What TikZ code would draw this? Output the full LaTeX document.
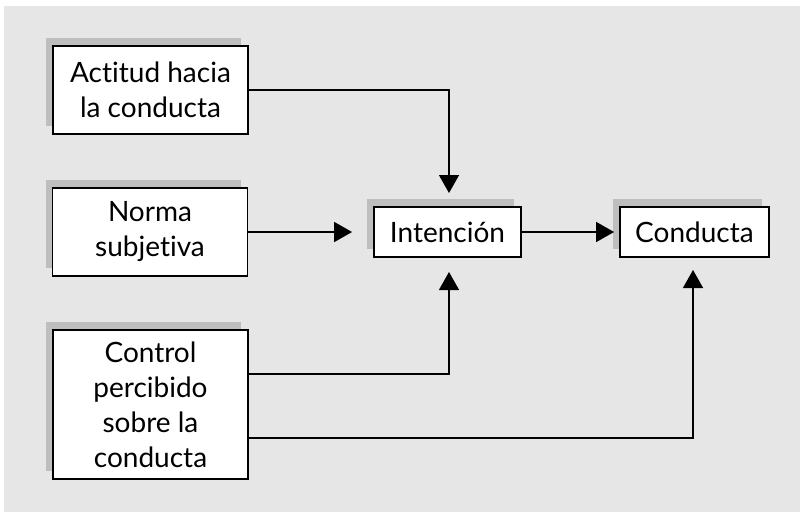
\documentclass[tikz,border=0pt]{standalone}
\usepackage{fontspec}
\setmainfont[Ligatures=NoCommon]{Lato}
\usetikzlibrary{arrows.meta}
\definecolor{bgc}{HTML}{E6E6E6}
\definecolor{shc}{HTML}{BEBEBE}
\tikzset{
  box/.style={draw=black, line width=1.8pt, fill=white, align=center, inner sep=0pt,
    font=\fontsize{28}{35}\selectfont},
  arr/.style={line width=1.4pt, -{Triangle[length=18pt,width=20pt]}}
}
\newcommand{\shbox}[6]{% name, cx, cy, w, h, text
  \fill[shc] (#2-#4/2-7,#3-#5/2-8) rectangle (#2+#4/2-7,#3+#5/2-8);
  \node[box, minimum width=#4pt, minimum height=#5pt] (#1) at (#2,#3) {#6};
}
\begin{document}
\begin{tikzpicture}[x=1pt,y=-1pt]
\useasboundingbox (0,0) rectangle (800,512);
\fill[bgc] (4,6) rectangle (800,512);
\shbox{a}{150.5}{90}{195}{88}{Actitud hacia\\la conducta}
\shbox{b}{150}{232}{195}{88}{Norma\\subjetiva}
\shbox{k}{150.5}{404.5}{195}{149}{Control\\percibido\\sobre la\\conducta}
\shbox{i}{447.5}{232}{147}{50}{Intención}
\shbox{c}{694.5}{232}{149}{50}{Conducta}
\coordinate (t1) at (449,193);
\coordinate (t4) at (449,272);
\coordinate (t5) at (693,270);
\draw[arr] (a.east) -| (t1);
\draw[arr, shorten >=21pt] (b.east) -- (i.west);
\draw[arr, shorten >=5pt] (i.east) -- (c.west);
\draw[arr] ([yshift=30.5pt]k.east) -| (t4);
\draw[arr] ([yshift=-33.5pt]k.east) -| (t5);
\end{tikzpicture}
\end{document}
